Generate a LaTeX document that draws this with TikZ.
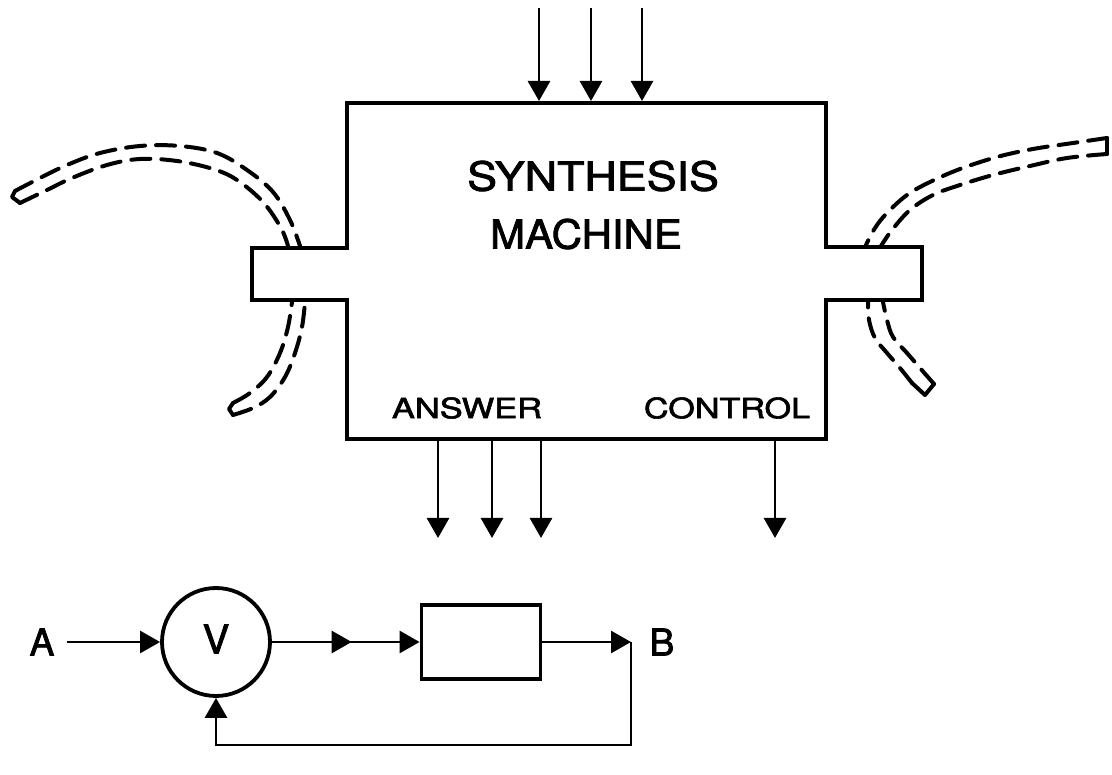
\documentclass[tikz,border=0pt]{standalone}
\usepackage{fontspec}
\setmainfont{TeX Gyre Heros}
\newfontfamily\lettering{TeX Gyre Heros}[FakeBold=2]
\usetikzlibrary{arrows.meta,decorations.markings}
\begin{document}
\begin{tikzpicture}[x=1pt,y=-1pt,
  conn/.style={line width=2.8pt, line join=miter},
  arr/.style={conn,-{Triangle[length=20pt,width=22pt]}},
  wall/.style={line width=4pt, line join=miter},
  tube/.style={line width=4pt, dash pattern=on 19pt off 11pt, line cap=round},
  tubecap/.style={line width=4pt, line cap=round, line join=round},
  lbl/.style={inner sep=0pt, font=\lettering\fontsize{28}{28}\selectfont},
  big/.style={inner sep=0pt, font=\lettering\fontsize{40}{40}\selectfont},
  let/.style={inner sep=0pt, font=\lettering\fontsize{37}{37}\selectfont},
]
\useasboundingbox (0,0) rectangle (1112,775);

% synthesis machine outline with side tabs
\draw[wall] (347,103) -- (826,103) -- (826,247) -- (922,247) -- (922,300)
  -- (826,300) -- (826,439) -- (347,439) -- (347,300) -- (252,300)
  -- (252,248) -- (347,248) -- cycle;

\node[big] (syn) at (593,176) {\scalebox{1.12}[1]{SYNTHESIS}};
\node[big] (mach) at (586,234) {\scalebox{1.05}[1]{MACHINE}};
\node[lbl] (ans) at (467,408) {\scalebox{1.23}[1]{ANSWER}};
\node[lbl] (ctl) at (727,408) {\scalebox{1.22}[1]{CONTROL}};

% input arrows
\foreach \i/\x in {1/539,2/591,3/642}{
  \coordinate (in\i) at (\x,8);
  \coordinate (in\i e) at (\x,101);
  \draw[arr] (in\i) -- (in\i e);
}
% output arrows
\foreach \i/\x in {1/438,2/492,3/541,4/775}{
  \coordinate (out\i) at (\x,441);
  \coordinate (out\i e) at (\x,538);
  \draw[arr] (out\i) -- (out\i e);
}

% dashed tubes
\draw[tube] plot[smooth, tension=0.6] coordinates {(15,191) (40,178) (67,165) (100,153) (140,146) (180,146) (217,153) (247,170) (273,192) (290,220) (300,246)};
\draw[tube] plot[smooth, tension=0.6] coordinates {(20,203) (47,190) (72,178) (107,165) (140,159) (177,161) (213,169) (237,180) (263,202) (281,228) (288,246)};
\draw[tubecap] (15,191) -- (12,197) -- (20,203);

\draw[tube] plot[smooth, tension=0.6] coordinates {(233,415) (253,408) (270,397) (285,377) (295,353) (302,327) (305,302)};
\draw[tube] plot[smooth, tension=0.6] coordinates {(233,403) (250,393) (267,377) (280,353) (288,327) (292,302)};
\draw[tubecap] (233,415) -- (229,409) -- (233,403);

\draw[tube] plot[smooth, tension=0.6] coordinates {(1107,138) (1073,143) (1033,149) (997,157) (960,169) (930,182) (907,195) (887,213) (875,228) (866,245)};
\draw[tube] plot[smooth, tension=0.6] coordinates {(1107,154) (1067,158) (1030,166) (993,175) (960,185) (933,195) (910,210) (892,230) (881,246)};
\draw[tubecap] (1107,138) -- (1107,154);

\draw[tube] plot[smooth, tension=0.6] coordinates {(912,383) (900,368) (887,353) (875,338) (869,320) (868,302)};
\draw[tube] plot[smooth, tension=0.6] coordinates {(934,384) (920,368) (907,353) (893,337) (887,320) (883,302)};
\draw[tubecap] (912,383) -- (925,395) -- (934,384);

% feedback loop
\node[let] (A) at (42,642) {A};
\node[draw, circle, line width=3.8pt, minimum size=108pt, inner sep=0pt,
  font=\lettering\fontsize{40}{40}\selectfont] (sum) at (216,642) {\raisebox{6pt}{V}};
\node[draw, rectangle, line width=3.8pt, minimum width=119pt, minimum height=74pt,
  inner sep=0pt] (blk) at (481,642) {};
\coordinate (bc) at (631,642);
\node[let] (B) at (662,642) {B};
\coordinate (fb) at (216,745);

\draw[arr] ([xshift=12pt]A.east) -- (sum.west);
\draw[arr, postaction={decorate}, decoration={markings,
  mark=at position 0.54 with {\arrow{Triangle[length=20pt,width=22pt]}}}]
  (sum.east) -- (blk.west);
\draw[arr] (blk.east) -- (bc);
\draw[arr] (bc) |- (fb) -- (sum.south);
\end{tikzpicture}
\end{document}
